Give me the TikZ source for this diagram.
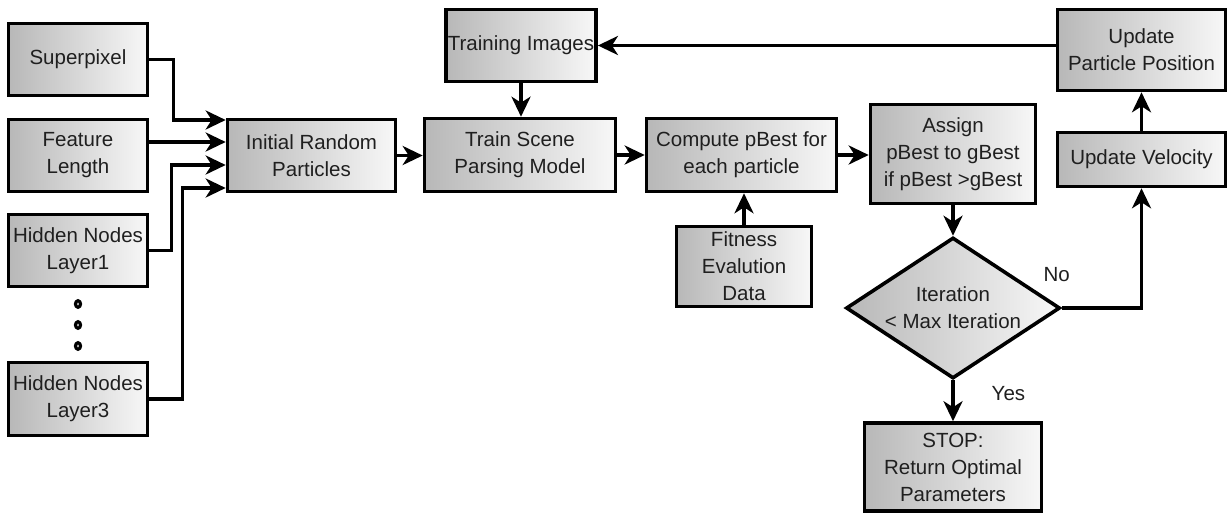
\documentclass[tikz,border=0pt]{standalone}
\usepackage{fontspec}
\setmainfont{Liberation Sans}
\usetikzlibrary{arrows.meta,shapes.geometric}
\tikzset{
  box/.style={draw=black, line width=3.6pt, rectangle, inner sep=2pt,
    left color=black!28, right color=black!3, align=center,
    text=black!88, font=\fontsize{20.5}{27}\selectfont},
  decision/.style={draw=black, line width=3.6pt, diamond, inner sep=0pt,
    left color=black!28, right color=black!3},
  lbl/.style={inner sep=0pt, align=center, text=black!88,
    font=\fontsize{20.5}{27}\selectfont},
  arr/.style={line width=3.4pt, -{Stealth[length=20pt,width=19pt,inset=6pt]}},
  dotmark/.style={ellipse, draw=black, fill=white, line width=3.2pt,
    minimum width=5pt, minimum height=6.5pt, inner sep=0pt},
}
\begin{document}
\begin{tikzpicture}[x=1pt, y=-1pt]
\useasboundingbox (0,0) rectangle (1230,512);

% input parameters
\node[box, minimum width=139pt, minimum height=72pt] (sp) at (78,59.5) {Superpixel};
\node[box, minimum width=139pt, minimum height=72pt] (fl) at (78,155.5) {Feature\\Length};
\node[box, minimum width=139pt, minimum height=72pt] (h1) at (78,250.5) {Hidden Nodes\\Layer1};
\node[box, minimum width=139pt, minimum height=73pt] (h3) at (78,399) {Hidden Nodes\\Layer3};
\node[dotmark] (d1) at (78,304) {};
\node[dotmark] (d2) at (78,325) {};
\node[dotmark] (d3) at (78,346) {};

% main pipeline
\node[box, minimum width=168pt, minimum height=72pt] (irp) at (311.5,155.5) {Initial Random\\Particles};
\node[box, minimum width=149pt, minimum height=72pt] (ti) at (521,45.5) {Training Images};
\node[box, minimum width=191pt, minimum height=73pt] (tsp) at (520,155) {Train Scene\\Parsing Model};
\node[box, minimum width=190pt, minimum height=73pt] (cp) at (741.5,155) {Compute pBest for\\each particle};
\node[box, minimum width=135pt, minimum height=80pt] (fe) at (744,266.5) {Fitness\\Evalution\\Data};
\node[box, minimum width=165pt, minimum height=99pt] (as) at (953,154) {Assign\\pBest to gBest\\if pBest >gBest};
\node[box, minimum width=168pt, minimum height=81pt] (upp) at (1141.5,50) {Update\\Particle Position};
\node[box, minimum width=168pt, minimum height=54pt] (uv) at (1141.5,159.5) {Update Velocity};
\node[decision, minimum width=214pt, minimum height=141pt] (dm) at (953,308) {};
\node[lbl] (dmt) at (dm.center) {Iteration\\< Max Iteration};
\node[box, minimum width=177pt, minimum height=88pt] (stop) at (953,467) {STOP:\\Return Optimal\\Parameters};

% inputs into the particle initialisation
\draw[arr] (sp.east) -- ++(24,0) |- ([yshift=35.5pt]irp.west);
\draw[arr] ([yshift=13.5pt]fl.east) -- ([yshift=13.5pt]irp.west);
\draw[arr] (h1.east) -- ++(22,0) |- ([yshift=-9.5pt]irp.west);
\draw[arr] (h3.east) -- ++(33,0) |- ([yshift=-32.5pt]irp.west);

% pipeline connectors
\draw[arr] (irp.east) -- (tsp.west |- irp.east);
\draw[arr] (ti.south) -- (ti.south |- tsp.north);
\draw[arr] (tsp.east) -- (cp.west);
\draw[arr] (fe.north) -- (fe.north |- cp.south);
\draw[arr] (cp.east) -- (as.west |- cp.east);
\draw[arr] (as.south) -- (dm.north);
\draw[arr] (dm.east) -| node[lbl, pos=0.0, above right, xshift=-20pt, yshift=25pt] (no) {No} (uv.south);
\draw[arr] (uv.north) -- (upp.south);
\draw[arr] (ti.east -| upp.west) -- (ti.east);
\draw[arr] (dm.south) -- node[lbl, right, xshift=37pt, yshift=7pt] (yes) {Yes} (stop.north);
\end{tikzpicture}
\end{document}
